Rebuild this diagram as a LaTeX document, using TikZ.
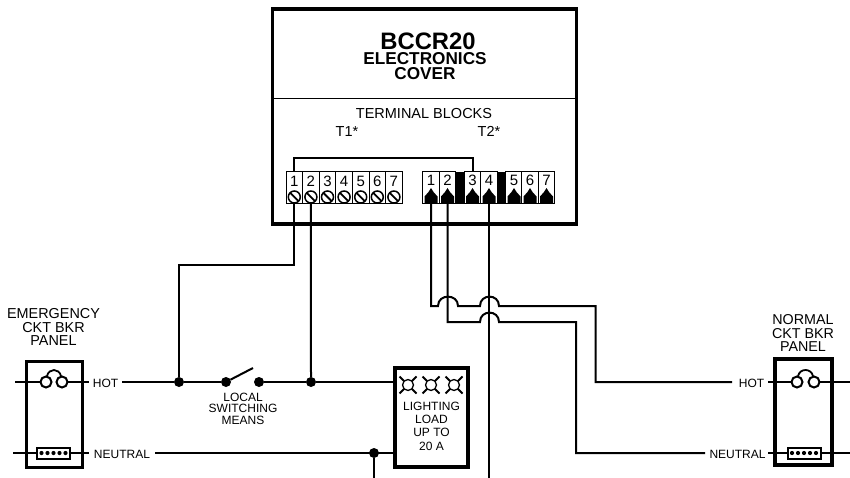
\documentclass[tikz,border=0pt]{standalone}
\usepackage{fontspec}
\setmainfont{Liberation Sans}
\newcommand{\fs}[2]{\fontsize{#1}{#2}\selectfont}
\tikzset{
 wire/.style={line width=2pt,line join=miter},
 heavy/.style={draw,line width=3.2pt,minimum width=#1,inner sep=0pt,outer sep=0pt},
 dotj/.style={circle,fill=black,minimum size=10pt,inner sep=0pt,outer sep=0pt},
 cell/.style={draw,line width=1pt,minimum width=16.6pt,minimum height=32pt,inner sep=0pt,outer sep=0pt,fill=white},
 blk/.style={fill=black,draw=none,minimum width=#1,minimum height=32pt,inner sep=0pt,outer sep=0pt},
 digit/.style={inner sep=0pt,font=\fs{15}{15}},
 screw/.style={circle,draw,line width=1.5pt,minimum size=12pt,inner sep=0pt,outer sep=0pt,fill=white},
 lab/.style={inner sep=0pt,outer sep=0pt,align=center},
 small/.style={lab,font=\fs{12}{13}},
 brk/.style={circle,draw,line width=2pt,minimum size=11pt,inner sep=0pt,outer sep=0pt,fill=white},
 neu/.style={draw,line width=2pt,minimum width=33pt,minimum height=11pt,inner sep=0pt,outer sep=0pt,fill=white},
 lamp/.style={circle,draw,line width=1.3pt,minimum size=11pt,inner sep=0pt,outer sep=0pt},
 lampx/.style={line width=2pt}
}
\begin{document}
\begin{tikzpicture}[x=1pt,y=-1pt]
\useasboundingbox (0,0) rectangle (850,478);
% main box
\node[heavy=304.5pt,minimum height=215pt] (main) at (424.5,116.5) {};
\coordinate (divL) at (272,99); \coordinate (divR) at (577,99);
\draw[line width=1pt] (divL) -- (divR);
\node[lab,font=\bfseries\fs{23.8}{24}] (title) at (428,41) {BCCR20};
\node[lab,font=\bfseries\fs{17.2}{15}] (sub) at (425,66.5) {ELECTRONICS\\COVER};
\node[lab,font=\fs{14.5}{15}] (tb) at (424,113.5) {TERMINAL BLOCKS};
\node[lab,font=\fs{14.5}{15}] (t1lab) at (347,131.5) {T1*};
\node[lab,font=\fs{14.5}{15}] (t2lab) at (489,131.5) {T2*};
% T1 terminals
\foreach \i/\x in {1/294.3,2/310.9,3/327.5,4/344.1,5/360.7,6/377.3,7/393.9}{
  \node[cell] (a\i) at (\x,188) {};
  \node[digit] (ad\i) at (\x,181) {\i};
  \node[screw] (as\i) at (\x,197) {};
  \draw[line width=1.8pt] (as\i.north west) -- (as\i.south east);
}
% T2 terminals
\node[blk=10pt] (bk1) at (460,188) {};
\node[blk=9pt] (bk2) at (501.5,188) {};
\foreach \i/\x in {1/431,2/447.5,3/472.5,4/489,5/514,6/530,7/546.5}{
  \node[cell] (b\i) at (\x,188) {};
  \node[digit] (bd\i) at (\x,180) {\i};
  \fill (\x,188) -- (\x+2.5,192) -- (\x+6.5,196.5) -- (\x+6.5,203) -- (\x-6.5,203) -- (\x-6.5,196.5) -- (\x-2.5,192) -- cycle;
}
% jumper
\draw[wire] (a1.north) -- (a1.north |- 0,158) -- (b3.north |- 0,158) -- (b3.north);
% emergency panel
\node[heavy=56pt,minimum height=106pt] (ep) at (54.5,414.5) {};
\node[lab,font=\fs{14.4}{13.5}] (eplab) at (53.5,327) {EMERGENCY\\CKT BKR\\PANEL};
\coordinate (eh0) at (15,382); \coordinate (eh1) at (89,382);
\coordinate (en0) at (13,453); \coordinate (en1) at (89,453);
\node[brk] (ec1) at (46,382) {};
\node[brk] (ec2) at (62,382) {};
\draw[wire] (eh0) -- (ec1.west);
\draw[wire] (ec2.east) -- (eh1);
\draw[wire] (en0) -- (en1);
\draw[line width=1.8pt] (47,376) .. controls (49,368) and (59,368) .. (61,376);
\node[neu] (eb) at (53.5,453) {};
\foreach \d in {-12,-6,0,6,12} \fill (53.5+\d,453) circle (2.1pt);
\node[small] (ehl) at (105.5,383) {HOT};
\node[small] (enl) at (122,454.5) {NEUTRAL};
% switch
\node[dotj] (ja) at (179,382) {};
\node[dotj] (sa) at (226,382) {};
\node[dotj] (sb) at (259,382) {};
\node[dotj] (jb) at (311,382) {};
\coordinate (blade) at (253,368);
\draw[wire] (sa) -- (blade);
\node[lab,font=\fs{12}{11.5}] (swl) at (243,408.5) {LOCAL\\SWITCHING\\MEANS};
% load box
\node[heavy=73pt,minimum height=99pt] (load) at (431.5,417.5) {};
\foreach \x in {408,431,454}{
  \node[lamp] (l\x) at (\x,385) {};
  \draw[lampx] (\x-8.5,376.5) -- (l\x.north west) (\x+8.5,376.5) -- (l\x.north east) (\x-8.5,393.5) -- (l\x.south west) (\x+8.5,393.5) -- (l\x.south east);
}
\node[lab,font=\fs{12}{13.4}] (ll) at (431.5,426) {LIGHTING\\LOAD\\UP TO\\20 A};
% left wiring
\coordinate (hs) at (122,382); \coordinate (ns) at (155,453);
\node[dotj] (jn) at (374,453) {};
\coordinate (jnd) at (374,478);
\draw[wire] (hs) -- (ja) -- (sa);
\draw[wire] (sb) -- (jb) -- (load.west |- jb);
\draw[wire] (ns) -- (load.west |- ns);
\draw[wire] (jn) -- (jnd);
\draw[wire] (as1.south) -- (as1.south |- 0,265) -- (ja.north |- 0,265) -- (ja);
\draw[wire] (as2.south) -- (jb);
% normal panel
\node[heavy=57pt,minimum height=106pt] (np) at (803.5,412) {};
\node[lab,font=\fs{14.3}{13.5}] (nplab) at (803,333.5) {NORMAL\\CKT BKR\\PANEL};
\coordinate (nh0) at (768,382); \coordinate (nh1) at (850,382);
\coordinate (nn0) at (768,453); \coordinate (nn1) at (850,453);
\node[brk] (nc1) at (797,382) {};
\node[brk] (nc2) at (814,382) {};
\draw[wire] (nh0) -- (nc1.west);
\draw[wire] (nc2.east) -- (nh1);
\draw[wire] (nn0) -- (nn1);
\draw[line width=1.8pt] (798,376) .. controls (800,368) and (811,368) .. (813,376);
\node[neu] (nb) at (804,453) {};
\foreach \d in {-12,-6,0,6,12} \fill (804+\d,453) circle (2.1pt);
\node[small] (nhl) at (751.5,383.5) {HOT};
\node[small] (nnl) at (737.5,454.5) {NEUTRAL};
% right wiring
\coordinate (he) at (732,382); \coordinate (ne) at (705,453);
\coordinate (f1) at (431,306); \coordinate (f2) at (447.5,322);
\coordinate (c1) at (595.5,306); \coordinate (c2) at (576,322);
\coordinate (dn) at (489,478);
\draw[wire] (b1.south) -- (f1) -- (438,306) .. controls (438,293.5) and (458,293.5) .. (458,306) -- (480,306) .. controls (480,293.5) and (499,293.5) .. (499,306) -- (c1) -- (c1 |- he) -- (he);
\draw[wire] (b2.south) -- (f2) -- (480,322) .. controls (480,309.5) and (499,309.5) .. (499,322) -- (c2) -- (c2 |- ne) -- (ne);
\draw[wire] (b4.south) -- (dn);
\end{tikzpicture}
\end{document}
